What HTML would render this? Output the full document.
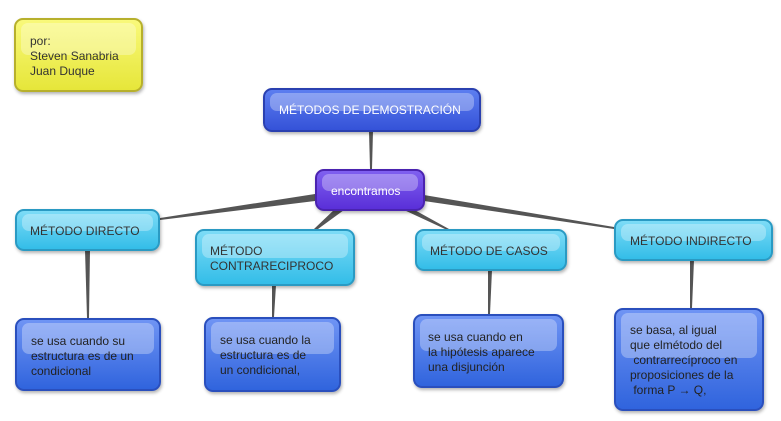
<!DOCTYPE html>
<html><head><meta charset="utf-8"><style>
body{margin:0;width:781px;height:421px;background:#fff;position:relative;overflow:hidden;font-family:"Liberation Sans",sans-serif;}
.b{position:absolute;box-sizing:border-box;border-radius:9px;font-size:12px;line-height:15px;overflow:hidden;}
.b:before{content:"";position:absolute;left:5px;right:5px;top:3px;height:45%;border-radius:7px;background:rgba(255,255,255,0.3);}
.b span{position:relative;}
.y{background:linear-gradient(#f9f97a,#e6e63a);border:2px solid #b7b02c;color:#333;box-shadow:1px 2px 3px rgba(0,0,0,.3);}
.c{background:linear-gradient(#7ddcf7,#33bde8);border:2px solid #2a9ac3;color:#333;box-shadow:1px 2px 3px rgba(0,0,0,.3);}
.d{background:linear-gradient(#6f94f4,#3064dd);border:2px solid #2a4fbd;color:#222;box-shadow:1px 2px 3px rgba(0,0,0,.3);}
.p{background:linear-gradient(#8060f0,#5a2fd8);border:2px solid #4a23b0;color:#fff;box-shadow:1px 2px 3px rgba(0,0,0,.3);}
.t{background:linear-gradient(#5c7ef0,#3552d8);border:2px solid #2a40b0;color:#fff;box-shadow:1px 2px 3px rgba(0,0,0,.3);}
</style></head><body>
<svg width="781" height="421" style="position:absolute;left:0;top:0">
<g fill="#555">
<polygon points="369,131 373,131 372,169 370,169"/>
<polygon points="315,194 315,201 160,220 160,218"/>
<polygon points="336,208 344,210 318,229 314,229"/>
<polygon points="404,210 411,208 449,229 445,229"/>
<polygon points="424,195 424,201 614,229 614,227"/>
<polygon points="85,250 90,250 89,318 87,318"/>
<polygon points="272,285 276,285 274,317 272,317"/>
<polygon points="488,270 492,270 490,314 488,314"/>
<polygon points="690,260 694,260 692,308 690,308"/>
</g>
</svg>
<div class="b y" style="left:14px;top:18px;width:129px;height:74px;padding:14px 0 0 14px"><span>por:<br>Steven Sanabria<br>Juan Duque</span></div>
<div class="b t" style="left:263px;top:88px;width:218px;height:44px;padding:13px 0 0 14px"><span>MÉTODOS DE DEMOSTRACIÓN</span></div>
<div class="b p" style="left:315px;top:169px;width:110px;height:42px;padding:13px 0 0 14px"><span>encontramos</span></div>
<div class="b c" style="left:15px;top:209px;width:145px;height:42px;padding:13px 0 0 13px"><span>MÉTODO DIRECTO</span></div>
<div class="b c" style="left:195px;top:229px;width:160px;height:57px;padding:13px 0 0 13px"><span>MÉTODO<br>CONTRARECIPROCO</span></div>
<div class="b c" style="left:415px;top:229px;width:152px;height:42px;padding:13px 0 0 13px"><span>MÉTODO DE CASOS</span></div>
<div class="b c" style="left:614px;top:219px;width:159px;height:42px;padding:13px 0 0 14px"><span>MÉTODO INDIRECTO</span></div>
<div class="b d" style="left:15px;top:318px;width:146px;height:73px;padding:14px 0 0 14px"><span>se usa cuando su<br>estructura es de un<br>condicional</span></div>
<div class="b d" style="left:204px;top:317px;width:137px;height:75px;padding:14px 0 0 14px"><span>se usa cuando la<br>estructura es de<br>un condicional,</span></div>
<div class="b d" style="left:413px;top:314px;width:151px;height:74px;padding:14px 0 0 13px"><span>se usa cuando en<br>la hipótesis aparece<br>una disjunción</span></div>
<div class="b d" style="left:614px;top:308px;width:150px;height:103px;padding:13px 0 0 14px"><span>se basa, al igual<br>que elmétodo del<br>&nbsp;contrarrecíproco en<br>proposiciones de la<br>&nbsp;forma P → Q,</span></div>
</body></html>
